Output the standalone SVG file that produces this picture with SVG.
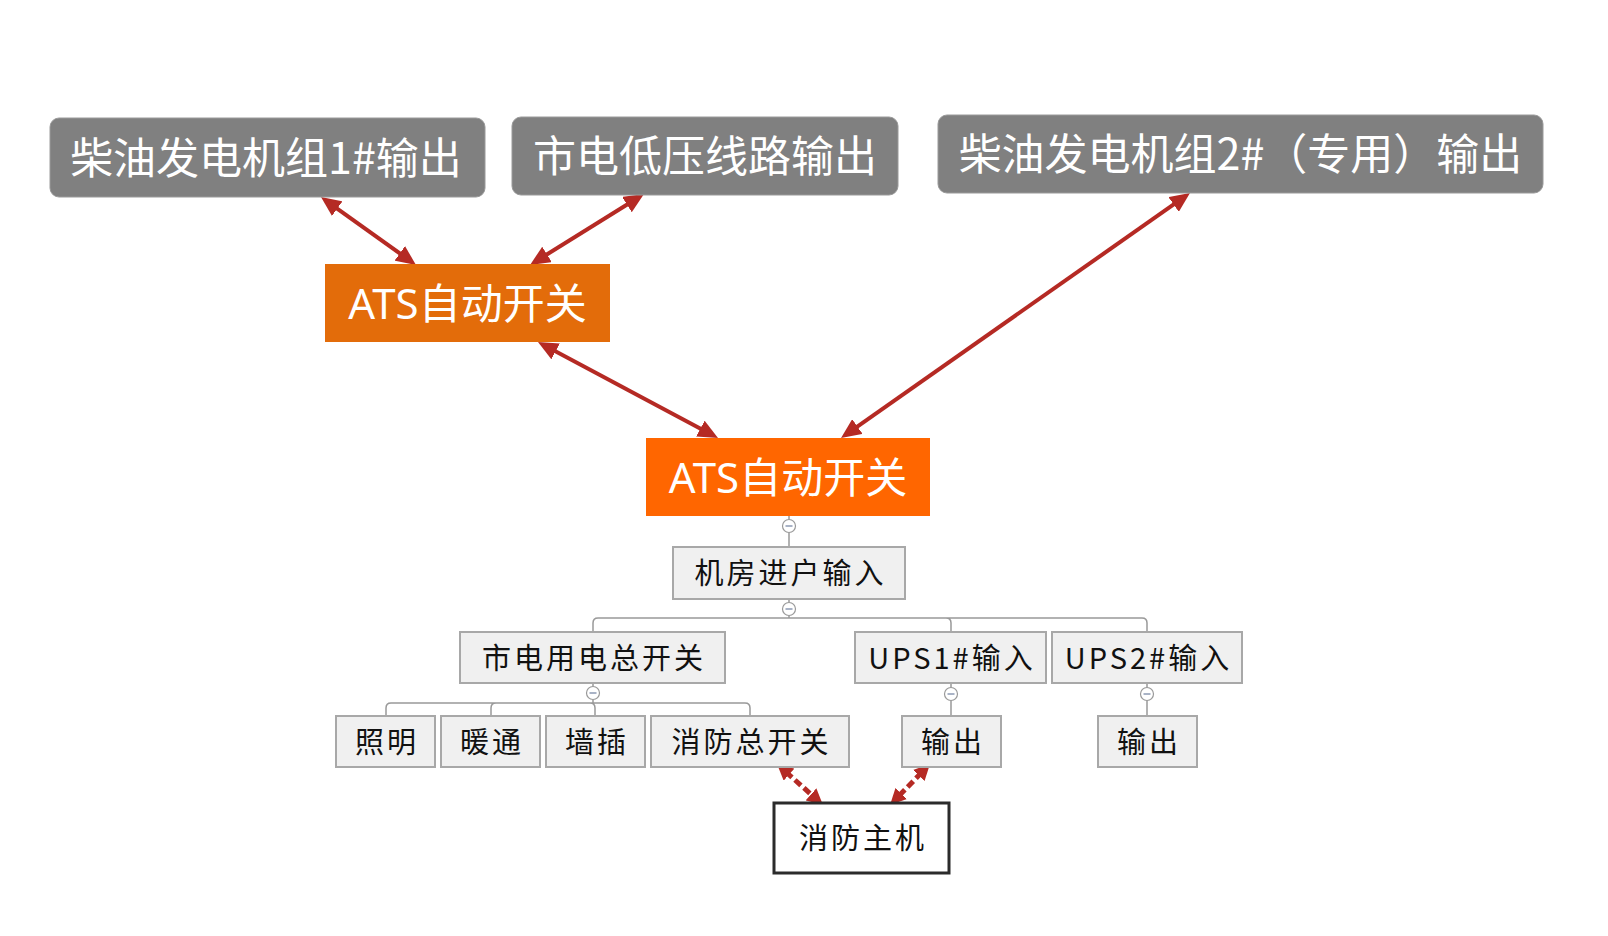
<svg xmlns="http://www.w3.org/2000/svg" width="1608" height="936" viewBox="0 0 1608 936">
<style>
.gbox{fill:#808080;stroke:#9a9a9a;stroke-width:1}
.gt{font-family:"Noto Sans CJK SC","Noto Sans",sans-serif;font-size:43px;fill:#ffffff;text-anchor:middle}
.at{font-family:"Noto Sans","Noto Sans CJK SC",sans-serif;font-size:42px;fill:#ffffff;text-anchor:middle}
.lbox{fill:#f0f0f0;stroke:#a8a8a8;stroke-width:2}
.lt{font-family:"Noto Sans CJK SC","Noto Sans",sans-serif;font-size:29px;fill:#111111;text-anchor:middle;letter-spacing:3px}
.tree{fill:none;stroke:#999999;stroke-width:1.5}
.cc{fill:#ffffff;stroke:#999999;stroke-width:1.2}
.cm{stroke:#7080a0;stroke-width:1.2}
.arr{stroke:#b52a24;stroke-width:4;fill:none;marker-start:url(#ah);marker-end:url(#ah)}
.darr{stroke:#b52a24;stroke-width:5;stroke-dasharray:8 4;fill:none;marker-start:url(#dh);marker-end:url(#dh)}
</style>
<defs>
<marker id="ah" markerUnits="userSpaceOnUse" markerWidth="20" markerHeight="18" viewBox="0 0 20 18" refX="4" refY="9" orient="auto-start-reverse">
<path d="M0,0 L20,9 L0,18 z" fill="#b52a24"/>
</marker>
<marker id="dh" markerUnits="userSpaceOnUse" markerWidth="16" markerHeight="16" viewBox="0 0 16 16" refX="4" refY="8" orient="auto-start-reverse">
<path d="M0,0 L16,8 L0,16 z" fill="#b52a24"/>
</marker>
</defs>
<rect width="1608" height="936" fill="#ffffff"/>

<g id="connectors">
<line class="arr" x1="334" y1="206.3" x2="403" y2="255.7"/>
<line class="arr" x1="630.4" y1="202.5" x2="543.6" y2="256.5"/>
<line class="arr" x1="552.1" y1="349.5" x2="703.9" y2="430.5"/>
<line class="arr" x1="1176.9" y1="202.2" x2="854.1" y2="428.8"/>
<line class="darr" x1="786" y1="772" x2="814" y2="797"/>
<line class="darr" x1="921.6" y1="772.6" x2="898.4" y2="796.4"/>
<path class="tree" d="M789,516 V519.5 M789,532.5 V547 M789,599 V602.5 M789,615.5 V618"/>
<path class="tree" d="M593,632 V623 Q593,618 598,618 H1142 Q1147,618 1147,623 V632 M946,618 Q951,618 951,623 V632"/>
<path class="tree" d="M593,683 V686.5 M593,699.5 V703"/>
<path class="tree" d="M386,716 V708 Q386,703 391,703 H745 Q750,703 750,708 V716 M491,716 V708 Q491,703 496,703 M595,716 V708 Q595,703 590,703"/>
<path class="tree" d="M951,683 V687.5 M951,700.5 V716 M1147,683 V687.5 M1147,700.5 V716"/>
<circle class="cc" cx="789" cy="526" r="6.5"/><line class="cm" x1="785.5" y1="526" x2="792.5" y2="526"/>
<circle class="cc" cx="789" cy="609" r="6.5"/><line class="cm" x1="785.5" y1="609" x2="792.5" y2="609"/>
<circle class="cc" cx="593" cy="693" r="6.5"/><line class="cm" x1="589.5" y1="693" x2="596.5" y2="693"/>
<circle class="cc" cx="951" cy="694" r="6.5"/><line class="cm" x1="947.5" y1="694" x2="954.5" y2="694"/>
<circle class="cc" cx="1147" cy="694" r="6.5"/><line class="cm" x1="1143.5" y1="694" x2="1150.5" y2="694"/>
</g>

<g id="gen1"><rect class="gbox" x="50" y="118" width="435" height="79" rx="9"/><text class="gt" x="266" y="173.5">柴油发电机组1#输出</text></g>
<g id="city"><rect class="gbox" x="512" y="117" width="386" height="78" rx="9"/><text class="gt" x="705" y="172">市电低压线路输出</text></g>
<g id="gen2"><rect class="gbox" x="938" y="115" width="605" height="78" rx="9"/><text class="gt" x="1240.5" y="170">柴油发电机组2#（专用）输出</text></g>
<g id="ats1"><rect x="325" y="264" width="285" height="78" fill="#e36c0a"/><text class="at" x="467.5" y="319">ATS<tspan font-family="Noto Sans CJK SC">自动开关</tspan></text></g>
<g id="ats2"><rect x="646" y="438" width="284" height="78" fill="#ff6600"/><text class="at" x="788" y="493">ATS<tspan font-family="Noto Sans CJK SC">自动开关</tspan></text></g>
<g id="room"><rect class="lbox" x="673" y="547" width="232" height="52"/><text class="lt" x="790.5" y="584">机房进户输入</text></g>
<g id="mains"><rect class="lbox" x="460" y="632" width="265" height="51"/><text class="lt" x="594" y="668.5">市电用电总开关</text></g>
<g id="ups1"><rect class="lbox" x="855" y="632" width="191" height="51"/><text class="lt" x="952" y="668.5">UPS1#输入</text></g>
<g id="ups2"><rect class="lbox" x="1052" y="632" width="190" height="51"/><text class="lt" x="1148.5" y="668.5">UPS2#输入</text></g>
<g id="light"><rect class="lbox" x="336" y="716" width="99" height="51"/><text class="lt" x="387" y="752.5">照明</text></g>
<g id="hvac"><rect class="lbox" x="441" y="716" width="99" height="51"/><text class="lt" x="492" y="752.5">暖通</text></g>
<g id="socket"><rect class="lbox" x="546" y="716" width="99" height="51"/><text class="lt" x="597" y="752.5">墙插</text></g>
<g id="fireswitch"><rect class="lbox" x="651" y="716" width="198" height="51"/><text class="lt" x="751.5" y="752.5">消防总开关</text></g>
<g id="out1"><rect class="lbox" x="902" y="716" width="99" height="51"/><text class="lt" x="953" y="752.5">输出</text></g>
<g id="out2"><rect class="lbox" x="1098" y="716" width="99" height="51"/><text class="lt" x="1149" y="752.5">输出</text></g>
<g id="firehost"><rect x="774" y="803" width="175" height="70" fill="#ffffff" stroke="#2b2b2b" stroke-width="3"/><text class="lt" x="863" y="849">消防主机</text></g>
</svg>
